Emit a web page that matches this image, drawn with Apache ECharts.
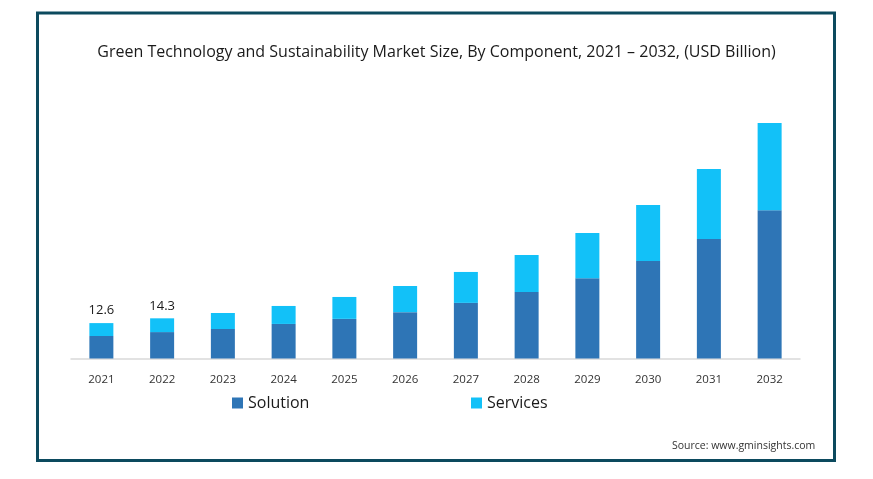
<!DOCTYPE html>
<html>
<head>
<meta charset="utf-8">
<script src="https://cdn.jsdelivr.net/npm/echarts@6/dist/echarts.min.js"></script>
<style>html,body{margin:0;padding:0;background:#fff;}#c{width:873px;height:479px;}</style>
</head>
<body>
<div id="c"></div>
<script>
const categories = ['2021','2022','2023','2024','2025','2026','2027','2028','2029','2030','2031','2032'];
const solution = [8.0, 9.4, 10.5, 12.3, 14.1, 16.5, 19.8, 23.7, 28.6, 34.7, 42.5, 52.8];
const services = [4.6, 4.9, 5.7, 6.4, 7.8, 9.3, 11.0, 13.1, 16.1, 19.9, 24.9, 31.0];
const totalLabels = ['12.6', '14.3'];

const chart = echarts.init(document.getElementById('c'));
chart.setOption({
  animation: false,
  backgroundColor: '#fff',
  title: {
    text: 'Green Technology and Sustainability Market Size, By Component, 2021 – 2032, (USD Billion)',
    left: 'center', top: 39,
    textStyle: { fontFamily: 'Open Sans', fontSize: 16, fontWeight: 'normal', color: '#1a1a1a' }
  },
  graphic: [
    { type: 'rect', shape: { x: 37.5, y: 13, width: 797, height: 447.5 },
      style: { fill: 'none', stroke: '#0c4a5e', lineWidth: 3 }, silent: true },
    { type: 'text', left: 672, top: 441,
      style: { text: 'Source: www.gminsights.com', fontFamily: 'Open Sans', fontSize: 10.5, fill: '#333' } }
  ],
  legend: [
    { data: ['Solution'], left: 227, top: 390, itemWidth: 11, itemHeight: 11, icon: 'rect',
      textStyle: { fontFamily: 'Open Sans', fontSize: 16, color: '#1a1a1a' } },
    { data: ['Services'], left: 466, top: 390, itemWidth: 11, itemHeight: 11, icon: 'rect',
      textStyle: { fontFamily: 'Open Sans', fontSize: 16, color: '#1a1a1a' } }
  ],
  grid: { left: 71, right: 73, top: 100, bottom: 120.5, containLabel: false },
  xAxis: {
    type: 'category', data: categories,
    axisLine: { lineStyle: { color: '#d9d9d9', width: 1.5 } },
    axisTick: { show: false },
    axisLabel: { fontFamily: 'Open Sans', fontSize: 11.5, color: '#333', margin: 15 }
  },
  yAxis: { type: 'value', min: 0, max: 92, show: false, splitLine: { show: false } },
  series: [
    { name: 'Solution', type: 'bar', stack: 'a', data: solution, barWidth: 24,
      itemStyle: { color: '#2e75b6' } },
    { name: 'Services', type: 'bar', stack: 'a', data: services, barWidth: 24,
      itemStyle: { color: '#12c1f8' },
      label: { show: true, position: 'top', distance: 6,
        fontFamily: 'Open Sans', fontSize: 13, color: '#1a1a1a',
        formatter: p => p.dataIndex < totalLabels.length ? totalLabels[p.dataIndex] : '' } }
  ]
});
</script>
</body>
</html>
